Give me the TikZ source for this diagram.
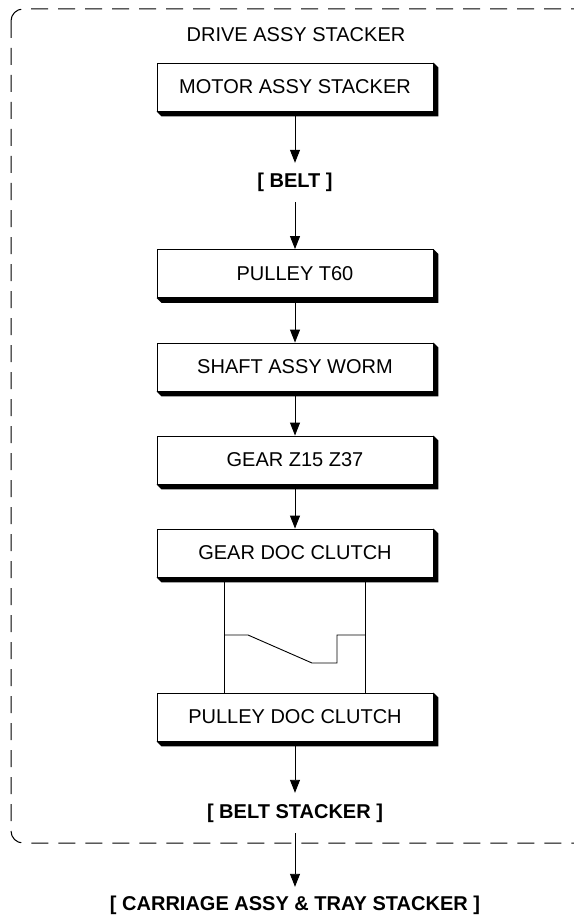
\documentclass[tikz,border=0pt]{standalone}
\usepackage{fontspec}
\setmainfont{Liberation Sans}
\usetikzlibrary{arrows.meta,calc}
\tikzset{
  partbox/.style={draw=black, line width=0.9pt, fill=white, minimum width=276pt, minimum height=48pt, inner sep=0pt, font=\fontsize{20}{24}\selectfont},
  lbl/.style={inner sep=0pt, font=\fontsize{20}{24}\selectfont\bfseries},
  plain/.style={inner sep=0pt, font=\fontsize{20}{24}\selectfont},
  conn/.style={line width=0.9pt, -{Triangle[width=10pt,length=13pt]}},
  wire/.style={line width=0.9pt},
  frame/.style={line width=1pt, dash pattern=on 17pt off 10pt, rounded corners=12pt}
}
\newcommand{\shadowbox}[1]{%
  \fill[black] (#1.south west) -- ++(5,5) -- ($(#1.south east)+(5,5)$) -- ($(#1.north east)+(5,5)$) -- (#1.north east) -- (#1.south east) -- cycle;}
\begin{document}
\begin{tikzpicture}[x=1pt,y=-1pt]
\useasboundingbox (0,0) rectangle (573,920);
\draw[frame] (11,9) rectangle (600,843);
\node[plain] (title) at (296,35) {DRIVE ASSY STACKER};
% boxes
\node[partbox] (motor) at (295,87) {MOTOR ASSY STACKER};
\node[partbox] (pulley) at (295,273.5) {PULLEY T60};
\node[partbox] (shaft) at (295,367) {SHAFT ASSY WORM};
\node[partbox] (gearz) at (295,460) {GEAR Z15 Z37};
\node[partbox] (geardoc) at (295,553) {GEAR DOC CLUTCH};
\node[partbox] (pulleydoc) at (295,717) {PULLEY DOC CLUTCH};
\shadowbox{motor}
\shadowbox{pulley}
\shadowbox{shaft}
\shadowbox{gearz}
\shadowbox{geardoc}
\shadowbox{pulleydoc}
% labels
\node[lbl, minimum height=39pt] (belt) at (295,182.5) {[ BELT ]};
\node[lbl, minimum height=40pt] (beltst) at (295,813) {[ BELT STACKER ]};
\node[lbl, minimum height=36pt] (carr) at (295,905) {[ CARRIAGE ASSY \& TRAY STACKER ]};
% connectors
\draw[conn] (motor.south) -- (belt.north);
\draw[conn] (belt.south) -- (pulley.north);
\draw[conn] (pulley.south) -- (shaft.north);
\draw[conn] (shaft.south) -- (gearz.north);
\draw[conn] (gearz.south) -- (geardoc.north);
\draw[conn] (pulleydoc.south) -- (beltst.north);
\draw[conn] (beltst.south) -- (carr.north);
% clutch linkage
\coordinate (cl1) at (224,582);
\coordinate (cl2) at (365,582);
\draw[wire] (cl1) -- (pulleydoc.north -| cl1);
\draw[wire] (cl2) -- (pulleydoc.north -| cl2);
\draw[wire] (224,635) -- (248,635) -- (312,663) -- (337,663) -- (337,635) -- (365,635);
\end{tikzpicture}
\end{document}
